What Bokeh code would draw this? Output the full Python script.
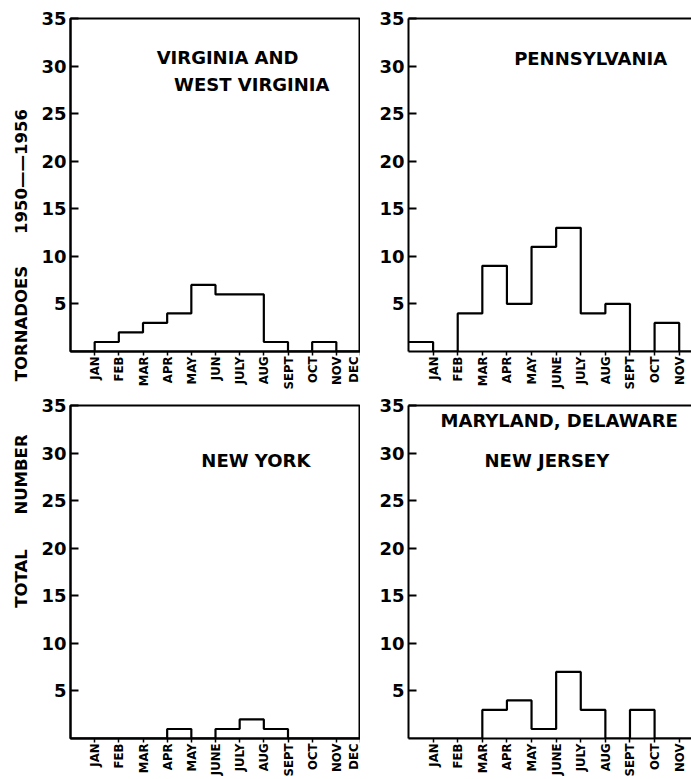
import math
from bokeh.plotting import figure
from bokeh.models import Range1d, FixedTicker, Label, LinearAxis
from bokeh.layouts import row, column
from bokeh.embed import file_html
from bokeh.resources import INLINE

# ---- data ----
MONTHS = ["JAN", "FEB", "MAR", "APR", "MAY", "JUNE", "JULY", "AUG", "SEPT", "OCT", "NOV", "DEC"]
MONTHS_VA = ["JAN", "FEB", "MAR", "APR", "MAY", "JUN", "JULY", "AUG", "SEPT", "OCT", "NOV", "DEC"]
VA_WV = [0, 1, 2, 3, 4, 7, 6, 6, 1, 0, 1, 0]
PENN = [1, 0, 4, 9, 5, 11, 13, 4, 5, 0, 3, 0]
NEW_YORK = [0, 0, 0, 0, 1, 0, 1, 2, 1, 0, 0, 0]
MD_DE_NJ = [0, 0, 0, 3, 4, 1, 7, 3, 0, 3, 0, 0]
Y_TICKS = [5, 10, 15, 20, 25, 30, 35]

FONT = "DejaVu Sans"
NARROW = "DejaVu Sans Condensed"


def panel(values, labels, titles, width, border_left, height, border_top, border_bottom, x_end, full_box):
    p = figure(width=width, height=height, output_backend="svg", toolbar_location=None,
               x_range=Range1d(0, x_end), y_range=Range1d(0, 35),
               min_border_left=border_left, min_border_right=0,
               min_border_top=border_top, min_border_bottom=border_bottom)
    p.grid.visible = False
    p.background_fill_color = "white"
    p.border_fill_color = "white"

    # y axis
    ya = p.left[0]
    ya.ticker = FixedTicker(ticks=Y_TICKS)
    ya.major_tick_in = 8
    ya.major_tick_out = 0
    ya.minor_tick_in = 0
    ya.minor_tick_out = 0
    ya.major_tick_line_width = 2
    ya.axis_line_width = 2
    ya.axis_line_color = "black"
    ya.major_label_standoff = 4
    ya.major_label_text_font = FONT
    ya.major_label_text_font_style = "bold"
    ya.major_label_text_font_size = "18px"
    ya.major_label_text_color = "black"

    # x axis
    xa = p.below[0]
    xa.ticker = FixedTicker(ticks=list(range(1, 13)))
    xa.major_label_overrides = {i + 1: lab for i, lab in enumerate(labels)}
    xa.major_label_orientation = math.pi / 2
    xa.major_tick_in = 0
    xa.major_tick_out = 4
    xa.minor_tick_in = 0
    xa.minor_tick_out = 0
    xa.major_tick_line_width = 1.5
    xa.axis_line_width = 2
    xa.axis_line_color = "black"
    xa.major_label_standoff = 1
    xa.major_label_text_font = NARROW
    xa.major_label_text_font_style = "bold"
    xa.major_label_text_font_size = "13px"
    xa.major_label_text_color = "black"

    if full_box:
        p.outline_line_color = "black"
        p.outline_line_width = 2
    else:
        p.outline_line_color = None
        top = LinearAxis(ticker=FixedTicker(ticks=[]), major_tick_out=0, major_tick_in=0,
                         minor_tick_out=0, minor_tick_in=0, major_label_standoff=0,
                         major_label_text_font_size="0px",
                         axis_line_width=2, axis_line_color="black")
        p.add_layout(top, "above")

    edges = list(range(0, 13))
    ys = list(values) + [values[-1]]
    p.step(x=edges, y=ys, mode="after", line_width=2.2, line_color="black")

    for text, x, y in titles:
        p.add_layout(Label(x=x, y=y, text=text, text_align="center", text_baseline="middle",
                           text_font=FONT, text_font_style="bold", text_font_size="18px",
                           text_color="black"))
    return p


TOP_H, TOP_T, TOP_B = 395, 18, 44
BOT_H, BOT_T, BOT_B = 384, 10, 41
LW, LB = 324, 34
RW, RB = 331, 48

tl = panel(VA_WV, MONTHS_VA, [("VIRGINIA AND", 6.5, 30.9), ("WEST VIRGINIA", 7.5, 28.1)],
           LW, LB, TOP_H, TOP_T, TOP_B, 12, True)
tr = panel(PENN, MONTHS, [("PENNSYLVANIA", 7.4, 30.8)],
           RW, RB, TOP_H, TOP_T, TOP_B, 11.5, False)
bl = panel(NEW_YORK, MONTHS, [("NEW  YORK", 7.8, 29.2)],
           LW, LB, BOT_H, BOT_T, BOT_B, 12, True)
br = panel(MD_DE_NJ, MONTHS, [("MARYLAND,  DELAWARE", 6.25, 33.4), ("NEW  JERSEY", 5.75, 29.2)],
           RW, RB, BOT_H, BOT_T, BOT_B, 11.5, False)

TOTAL_H = TOP_H + BOT_H
side = figure(width=36, height=TOTAL_H, output_backend="svg", toolbar_location=None,
              x_range=Range1d(0, 36), y_range=Range1d(0, TOTAL_H),
              x_axis_location=None, y_axis_location=None, min_border=0)
side.grid.visible = False
side.outline_line_color = None
for text, ypage in [("TOTAL", 578), ("NUMBER", 474), ("TORNADOES", 323), ("1950\u2014\u20141956", 171)]:
    side.add_layout(Label(x=21, y=TOTAL_H - ypage, text=text, angle=math.pi / 2,
                          text_align="center", text_baseline="middle",
                          text_font=FONT, text_font_style="bold", text_font_size="16.5px",
                          text_color="black"))

layout = row(side, column(row(tl, tr), row(bl, br)))

with open("out.html", "w") as f:
    f.write(file_html(layout, INLINE))
